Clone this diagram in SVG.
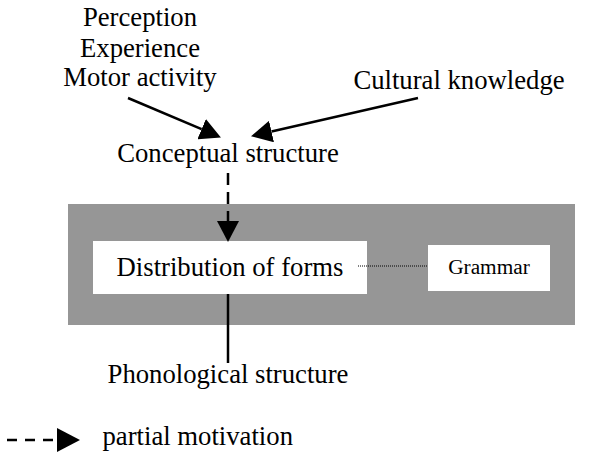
<svg xmlns="http://www.w3.org/2000/svg" width="591" height="453" viewBox="0 0 591 453">
  <style>
    .lbl { font-size: 26.7px; }
    .mid { text-anchor: middle; }
    .small { font-size: 21.3px; }
    .box { fill: #fff; stroke: none; }
    .edge { stroke: #000; stroke-width: 2.5; fill: none; }
    .dash { stroke-dasharray: 12 7; }
    .dots { stroke: #000; stroke-width: 1; stroke-dasharray: 1 1; fill: none; }
  </style>
  <defs>
    <marker id="head" markerUnits="userSpaceOnUse" markerWidth="21" markerHeight="22" viewBox="0 0 21 22" refX="0" refY="11" orient="auto">
      <path d="M0,0 L21,11 L0,22 Z" fill="#000"/>
    </marker>
  </defs>

  <!-- language system panel -->
  <g id="panel">
    <rect x="68" y="204" width="507" height="121" fill="#969696"/>
  </g>

  <g font-family="Liberation Serif, Tinos, Times New Roman, DejaVu Serif, serif" fill="#000">
    <g id="sources">
      <text class="lbl mid" x="140" y="26">Perception</text>
      <text class="lbl mid" x="140" y="57">Experience</text>
      <text class="lbl mid" x="140" y="86">Motor activity</text>
    </g>

    <g id="culture">
      <text class="lbl mid" x="459" y="89">Cultural knowledge</text>
    </g>

    <g id="conceptual">
      <text class="lbl mid" x="228" y="162">Conceptual structure</text>
    </g>

    <g id="distribution">
      <rect class="box" x="93" y="241" width="274" height="53"/>
      <text class="lbl mid" x="230" y="276">Distribution of forms</text>
    </g>

    <g id="grammar">
      <rect class="box" x="428" y="245" width="122" height="46"/>
      <text class="small mid" x="489" y="274">Grammar</text>
    </g>

    <g id="phonological">
      <text class="lbl mid" x="228" y="383">Phonological structure</text>
    </g>
  </g>

  <g id="connectors">
    <line class="edge" x1="128" y1="98" x2="201.6" y2="129.2" marker-end="url(#head)"/>
    <line class="edge" x1="418" y1="98" x2="271.5" y2="131.5" marker-end="url(#head)"/>
    <line class="edge dash" x1="228" y1="173" x2="228" y2="221" marker-end="url(#head)"/>
    <line class="edge" x1="228" y1="294" x2="228" y2="363"/>
    <line class="dots" x1="358" y1="266" x2="427" y2="266"/>
  </g>

  <g id="legend">
    <line class="edge" x1="7" y1="440" x2="57" y2="440" stroke-dasharray="10 8"/>
    <path d="M57,428 L80,440 L57,452 Z" fill="#000"/>
    <text class="lbl" x="102.5" y="445" font-family="Liberation Serif, Tinos, Times New Roman, DejaVu Serif, serif">partial motivation</text>
  </g>
</svg>
